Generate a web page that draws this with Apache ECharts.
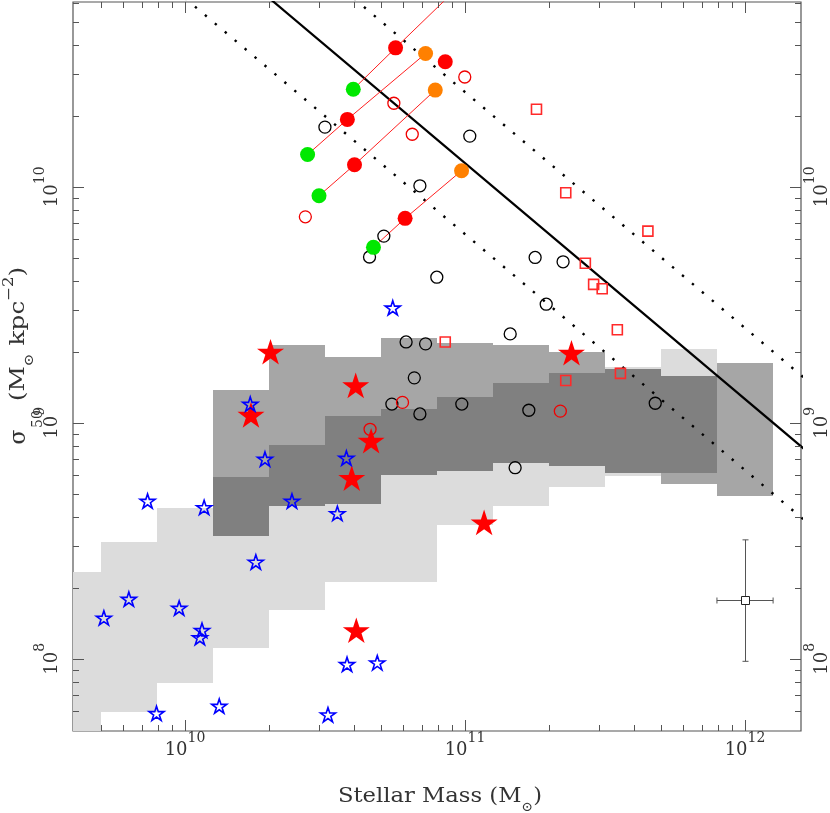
<!DOCTYPE html>
<html><head><meta charset="utf-8">
<script src="https://cdn.jsdelivr.net/npm/echarts@6/dist/echarts.min.js"></script>
<style>html,body{margin:0;padding:0;background:#fff}#c{width:830px;height:813px}</style>
</head><body><div id="c"></div>
<script>
// ---------------- data ----------------
const xMin = 3.98e9, xMax = 1.585e12;
const yMin = 4.94e7, yMax = 6.07e10;

const binEdges = [3.16e9, 5.01e9, 7.94e9, 1.26e10, 2.00e10, 3.16e10, 5.01e10, 7.94e10, 1.26e11, 2.00e11, 3.16e11, 5.01e11, 7.94e11, 1.26e12];
const lightLo = [3.0e7, 5.94e7, 7.89e7, 1.11e8, 1.61e8, 2.11e8, 2.11e8, 3.69e8, 4.45e8, 5.36e8, 5.97e8, 6.11e8, null];
const lightHi = [2.33e8, 3.12e8, 4.36e8, 5.89e8, 8.07e8, 1.067e9, 1.143e9, 1.282e9, 1.477e9, 1.618e9, 1.730e9, 2.046e9, null];
const medLo = [null, null, null, 3.30e8, 4.45e8, 4.54e8, 6.00e8, 6.27e8, 6.73e8, 6.58e8, 6.12e8, 5.48e8, 4.89e8];
const medHi = [null, null, null, 1.371e9, 2.14e9, 1.892e9, 2.28e9, 2.18e9, 2.14e9, 1.986e9, 1.689e9, 1.578e9, 1.786e9];

const solidLine = [[1.0e10, 1.26e11], [2.0e12, 6.3e8]];
const dottedUpper = [[1.0e10, 2.52e11], [2.0e12, 1.26e9]];
const dottedLower = [[1.0e10, 6.3e10], [2.0e12, 3.15e8]];

const greenPts = [[3.99e10, 2.59e10], [2.74e10, 1.37e10], [3.01e10, 9.16e9], [4.71e10, 5.54e9]];
const redTrackPts = [[5.65e10, 3.88e10], [3.80e10, 1.93e10], [4.03e10, 1.24e10], [6.11e10, 7.35e9]];
const orangePts = [[1.05e11, 7.9e10], [7.23e10, 3.67e10], [7.83e10, 2.57e10], [9.72e10, 1.17e10]];
const redFilledExtra = [[8.50e10, 3.39e10]];

const redOpenCircles = [[9.98e10, 2.92e10], [5.57e10, 2.26e10], [6.48e10, 1.67e10], [2.69e10, 7.46e9],
  [5.98e10, 1.22e9], [4.58e10, 9.38e8], [2.19e11, 1.12e9]];

const redSquares = [[1.80e11, 2.13e10], [2.29e11, 9.43e9], [4.50e11, 6.49e9], [2.69e11, 4.74e9],
  [2.88e11, 3.86e9], [3.09e11, 3.70e9], [3.50e11, 2.48e9], [8.50e10, 2.20e9], [3.59e11, 1.62e9], [2.29e11, 1.51e9]];

const blackCircles = [[3.16e10, 1.79e10], [1.04e11, 1.64e10], [6.90e10, 1.01e10], [5.13e10, 6.18e9],
  [4.56e10, 5.04e9], [7.93e10, 4.14e9], [1.78e11, 5.02e9], [2.24e11, 4.81e9], [1.95e11, 3.18e9],
  [1.45e11, 2.38e9], [6.16e10, 2.20e9], [7.23e10, 2.16e9], [6.59e10, 1.55e9], [5.48e10, 1.20e9],
  [6.90e10, 1.09e9], [9.74e10, 1.20e9], [1.69e11, 1.13e9], [4.78e11, 1.21e9], [1.51e11, 6.45e8]];

const redStars = [[2.02e10, 2.00e9], [1.72e10, 1.08e9], [4.07e10, 1.44e9], [4.62e10, 8.39e8],
  [3.94e10, 5.83e8], [1.17e11, 3.78e8], [4.09e10, 1.32e8], [2.40e11, 1.98e9]];

const blueStars = [[5.52e10, 3.07e9], [1.71e10, 1.20e9], [1.93e10, 7.02e8], [3.77e10, 7.09e8],
  [7.35e9, 4.66e8], [1.17e10, 4.38e8], [2.41e10, 4.66e8], [3.50e10, 4.13e8], [1.79e10, 2.57e8],
  [6.30e9, 1.79e8], [5.13e9, 1.49e8], [9.53e9, 1.64e8], [1.15e10, 1.32e8], [1.13e10, 1.23e8],
  [3.79e10, 9.47e7], [4.86e10, 9.62e7], [7.91e9, 5.87e7], [1.325e10, 6.30e7], [3.24e10, 5.79e7]];

// typical error bar: [x, y, xLow, xHigh, yLow, yHigh]
const errorBar = [[1.0e12, 1.77e8, 7.94e11, 1.26e12, 9.75e7, 3.19e8]];

const xMajorTicks = [1e10, 1e11, 1e12];
const xMinorTicks = [5e9, 6e9, 7e9, 8e9, 9e9, 2e10, 3e10, 4e10, 5e10, 6e10, 7e10, 8e10, 9e10,
  2e11, 3e11, 4e11, 5e11, 6e11, 7e11, 8e11, 9e11];
const yMajorTicks = [1e8, 1e9, 1e10];
const yMinorTicks = [6e7, 7e7, 8e7, 9e7, 2e8, 3e8, 4e8, 5e8, 6e8, 7e8, 8e8, 9e8,
  2e9, 3e9, 4e9, 5e9, 6e9, 7e9, 8e9, 9e9, 2e10, 3e10, 4e10, 5e10, 6e10];

// ---------------- build ----------------
const FONT = '"DejaVu Serif", "Liberation Serif", serif';
const TXT = '#333';
const starPath = 'path://M50,0L61.23,34.55L97.55,34.55L68.16,55.9L79.39,90.45L50,69.1L20.61,90.45L31.84,55.9L2.45,34.55L38.77,34.55Z';

function bandData(lo, hi) {
  const out = [];
  for (let i = 0; i < lo.length; i++) {
    if (lo[i] == null || hi[i] == null) continue;
    out.push([binEdges[i], binEdges[i + 1], lo[i], hi[i]]);
  }
  return out;
}
function overlapData() {
  const out = [];
  for (let i = 0; i < lightLo.length; i++) {
    if (lightLo[i] == null || medLo[i] == null) continue;
    const lo = Math.max(lightLo[i], medLo[i]);
    const hi = Math.min(lightHi[i], medHi[i]);
    if (lo < hi) out.push([binEdges[i], binEdges[i + 1], lo, hi]);
  }
  return out;
}
function bandSeries(data, color) {
  return {
    type: 'custom', z: 1, silent: true, data: data,
    encode: { x: [0, 1], y: [2, 3] },
    renderItem: function (params, api) {
      const p0 = api.coord([api.value(0), api.value(3)]);
      const p1 = api.coord([api.value(1), api.value(2)]);
      const cs = params.coordSys;
      const x0 = Math.round(p0[0]), y0 = Math.round(p0[1]);
      const x1 = Math.round(p1[0]), y1 = Math.round(p1[1]);
      const shape = echarts.graphic.clipRectByRect(
        { x: x0, y: y0, width: x1 - x0, height: y1 - y0 },
        { x: cs.x, y: cs.y, width: cs.width, height: cs.height });
      return shape && { type: 'rect', shape: shape, style: { fill: color } };
    }
  };
}
function tickData() {
  const d = [];
  xMajorTicks.forEach(v => d.push([v, 1e9, 0, 11]));
  xMinorTicks.forEach(v => d.push([v, 1e9, 0, 6]));
  yMajorTicks.forEach(v => d.push([1e11, v, 1, 11]));
  yMinorTicks.forEach(v => d.push([1e11, v, 1, 6]));
  return d;
}
function powLabel(v) {
  const e = Math.log10(v);
  const r = Math.round(e);
  if (Math.abs(e - r) > 1e-6) return '';
  return '{b|10}{s|' + r + '}';
}
const labelRich = {
  b: { fontFamily: FONT, fontSize: 18, lineHeight: 38, color: TXT },
  s: { fontFamily: FONT, fontSize: 14, lineHeight: 14, verticalAlign: 'top', color: TXT }
};
function scatter(data, symbol, size, style, z) {
  style.opacity = 1;
  return { type: 'scatter', data: data, symbol: symbol, symbolSize: size, symbolKeepAspect: true,
    itemStyle: style, z: z, silent: true, clip: true };
}
function line(data, style, z) {
  style.opacity = 1;
  return { type: 'line', data: data, symbol: 'none', clip: true, silent: true, z: z,
    lineStyle: style };
}

const series = [
  bandSeries(bandData(lightLo, lightHi), '#dcdcdc'),
  bandSeries(bandData(medLo, medHi), '#a6a6a6'),
  bandSeries(overlapData(), '#808080'),
  line(solidLine, { color: '#000', width: 2.2 }, 2),
  line(dottedUpper, { color: '#000', width: 2.4, type: [2.4, 10.6], cap: 'butt' }, 2),
  line(dottedLower, { color: '#000', width: 2.4, type: [2.4, 10.6], cap: 'butt' }, 2)
];
for (let i = 0; i < greenPts.length; i++) {
  series.push(line([greenPts[i], redTrackPts[i], orangePts[i]], { color: '#ff2020', width: 1 }, 3));
}
series.push(
  scatter(blackCircles, 'circle', 12, { color: 'rgba(0,0,0,0)', borderColor: '#000', borderWidth: 1.3 }, 4),
  scatter(redSquares, 'rect', 10, { color: 'rgba(0,0,0,0)', borderColor: '#ff2a2a', borderWidth: 1.6 }, 4),
  scatter(redOpenCircles, 'circle', 12, { color: 'rgba(0,0,0,0)', borderColor: '#f00000', borderWidth: 1.3 }, 4),
  scatter(redStars, starPath, 27, { color: '#ff0000' }, 5),
  scatter(blueStars, starPath, 15, { color: 'rgba(0,0,0,0)', borderColor: '#0000ff', borderWidth: 1.6 }, 6),
  scatter(greenPts, 'circle', 15, { color: '#00e800' }, 7),
  scatter(redTrackPts.concat(redFilledExtra), 'circle', 15, { color: '#ff0000' }, 7),
  scatter(orangePts, 'circle', 15, { color: '#ff8000' }, 7)
);
series.push({
  type: 'custom', z: 8, silent: true, data: errorBar,
  encode: { x: 0, y: 1 },
  renderItem: function (params, api) {
    const c = api.coord([api.value(0), api.value(1)]);
    const xl = api.coord([api.value(2), api.value(1)])[0];
    const xh = api.coord([api.value(3), api.value(1)])[0];
    const yl = api.coord([api.value(0), api.value(4)])[1];
    const yh = api.coord([api.value(0), api.value(5)])[1];
    const cx = Math.round(c[0]) + 0.5, cy = Math.round(c[1]) + 0.5;
    const st = { stroke: '#555', lineWidth: 1 };
    const cap = 3;
    return { type: 'group', children: [
      { type: 'line', shape: { x1: xl, y1: cy, x2: xh, y2: cy }, style: st },
      { type: 'line', shape: { x1: xl, y1: cy - cap, x2: xl, y2: cy + cap }, style: st },
      { type: 'line', shape: { x1: xh, y1: cy - cap, x2: xh, y2: cy + cap }, style: st },
      { type: 'line', shape: { x1: cx, y1: yl, x2: cx, y2: yh }, style: st },
      { type: 'line', shape: { x1: cx - cap, y1: yl, x2: cx + cap, y2: yl }, style: st },
      { type: 'line', shape: { x1: cx - cap, y1: yh, x2: cx + cap, y2: yh }, style: st },
      { type: 'rect', shape: { x: cx - 4, y: cy - 4, width: 8, height: 8 }, style: { fill: '#fff', stroke: '#222', lineWidth: 1 } }
    ] };
  }
});
series.push({
  type: 'custom', z: 9, silent: true, data: tickData(),
  encode: { x: 0, y: 1 },
  renderItem: function (params, api) {
    const cs = params.coordSys;
    const kind = api.value(2), len = api.value(3);
    const st = { stroke: '#555', lineWidth: 1 };
    if (kind === 0) {
      const x = Math.round(api.coord([api.value(0), api.value(1)])[0]) + 0.5;
      const yb = cs.y + cs.height, yt = cs.y;
      return { type: 'group', children: [
        { type: 'line', shape: { x1: x, y1: yb, x2: x, y2: yb - len }, style: st },
        { type: 'line', shape: { x1: x, y1: yt, x2: x, y2: yt + len }, style: st }
      ] };
    }
    const y = Math.round(api.coord([api.value(0), api.value(1)])[1]) + 0.5;
    const xl = cs.x, xr = cs.x + cs.width;
    return { type: 'group', children: [
      { type: 'line', shape: { x1: xl, y1: y, x2: xl + len, y2: y }, style: st },
      { type: 'line', shape: { x1: xr, y1: y, x2: xr - len, y2: y }, style: st }
    ] };
  }
});

const yAxisBase = {
  type: 'log', logBase: 10, min: yMin, max: yMax,
  axisLine: { show: false }, axisTick: { show: false }, splitLine: { show: false },
  axisLabel: { rotate: 90, margin: 2, formatter: powLabel, rich: labelRich, color: TXT }
};

const option = {
  animation: false,
  backgroundColor: '#fff',
  grid: { left: 73, right: 29, top: 2, bottom: 82, show: true, borderColor: '#555', borderWidth: 1.2,
    backgroundColor: '#fff', containLabel: false, outerBoundsMode: 'none' },
  xAxis: {
    type: 'log', logBase: 10, min: xMin, max: xMax,
    axisLine: { show: false }, axisTick: { show: false }, splitLine: { show: false },
    axisLabel: { margin: 0, formatter: powLabel, rich: labelRich, color: TXT }
  },
  yAxis: [
    Object.assign({}, yAxisBase, { position: 'left' }),
    Object.assign({}, yAxisBase, { position: 'right' })
  ],
  graphic: [
    { type: 'text', x: 440, y: 797, scaleX: 1.08, silent: true,
      style: { text: 'Stellar Mass (M{s|\u2299})', font: '21px ' + FONT, fill: TXT, lineHeight: 34,
        align: 'center', verticalAlign: 'middle',
        rich: { s: { fontSize: 13, fontFamily: FONT, fill: TXT, lineHeight: 16, verticalAlign: 'bottom' } } } },
    { type: 'text', x: 19, y: 437, rotation: Math.PI / 2, silent: true,
      style: { text: '\u03c3', font: '22px ' + FONT, fill: TXT, align: 'center', verticalAlign: 'middle' } },
    { type: 'text', x: 38, y: 419, rotation: Math.PI / 2, silent: true,
      style: { text: '50', font: '14px ' + FONT, fill: TXT, align: 'center', verticalAlign: 'middle' } },
    { type: 'text', x: 19, y: 334, rotation: Math.PI / 2, scaleX: 1.18, silent: true,
      style: { text: '(M{s|\u2299} kpc{p|\u22122})', font: '21px ' + FONT, fill: TXT, lineHeight: 34,
        align: 'center', verticalAlign: 'middle',
        rich: {
          s: { fontSize: 13, fontFamily: FONT, fill: TXT, lineHeight: 16, verticalAlign: 'bottom' },
          p: { fontSize: 14, fontFamily: FONT, fill: TXT, lineHeight: 16, verticalAlign: 'top' }
        } } }
  ],
  series: series
};

const chart = echarts.init(document.getElementById('c'), null, { renderer: 'canvas' });
chart.setOption(option);
</script>
</body></html>
